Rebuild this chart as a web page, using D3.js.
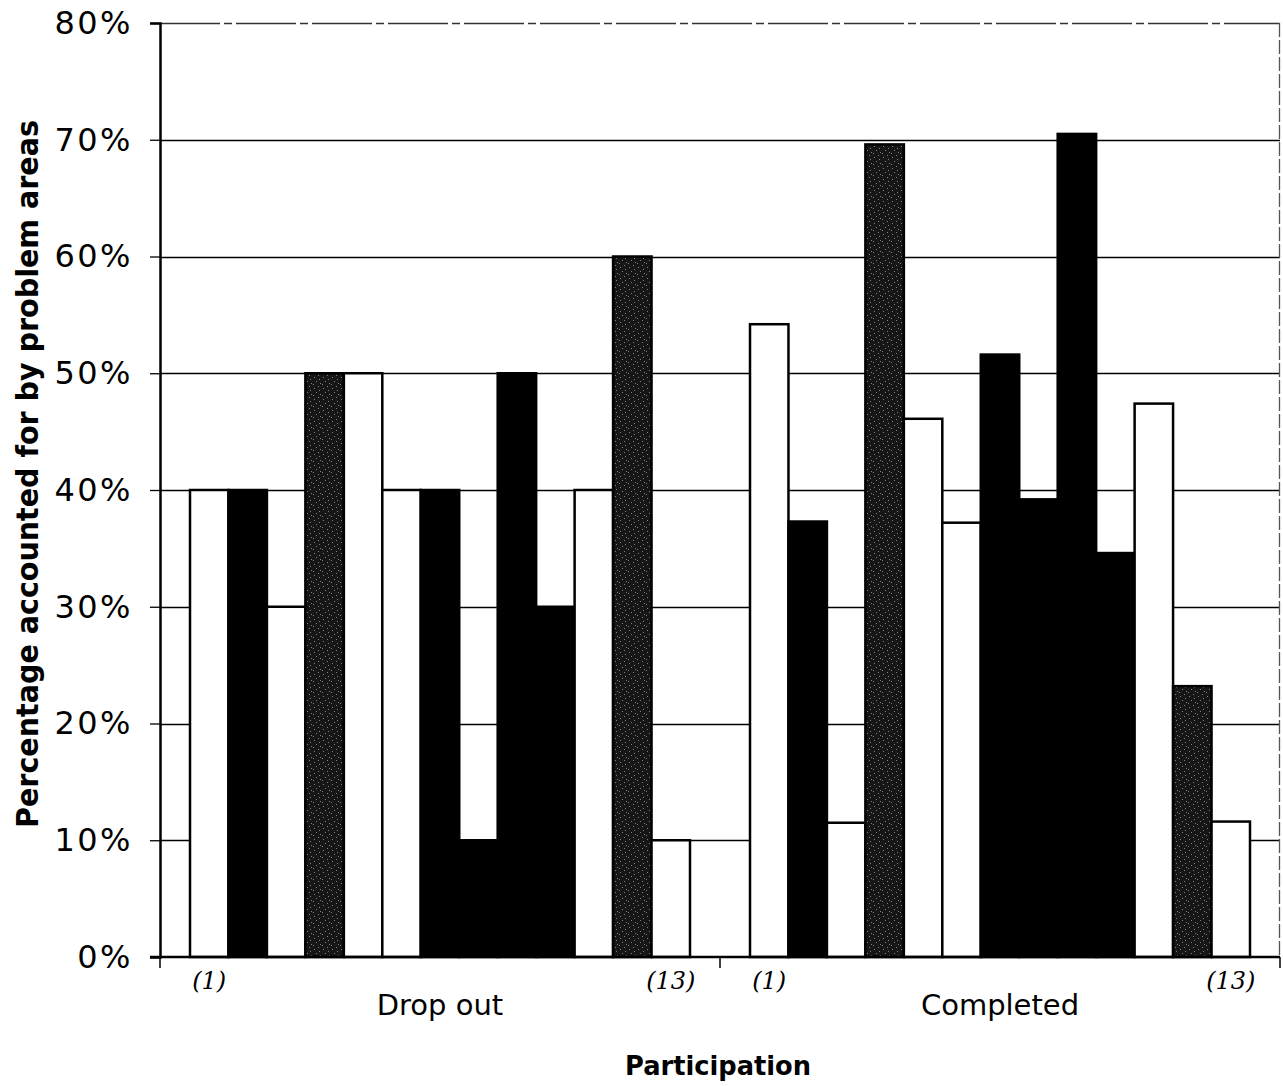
<!DOCTYPE html>
<html>
<head>
<meta charset="utf-8">
<script src="https://cdn.jsdelivr.net/npm/d3@7"></script>
<style>
  html, body { margin: 0; padding: 0; background: #fff; }
  svg { display: block; }
</style>
</head>
<body>
<div id="chart"></div>
<script>
// categories + series values
const groups = ['Drop out', 'Completed'];
const problemAreas = ['1', '2', '3', '4', '5', '6', '7', '8', '9', '10', '11', '12', '13'];
const dropOut = [0.40, 0.40, 0.30, 0.50, 0.50, 0.40, 0.40, 0.10, 0.50, 0.30, 0.40, 0.60, 0.10];
const completed = [0.542, 0.373, 0.115, 0.696, 0.461, 0.372, 0.516, 0.392, 0.705, 0.346, 0.474, 0.232, 0.116];
const yTicks = [0, 0.1, 0.2, 0.3, 0.4, 0.5, 0.6, 0.7, 0.8];
const endLabels = ['(1)', '(13)'];

// fill per series (print was black / white / speckled grey)
const seriesFill = ['white', 'black', 'white', 'grey', 'white', 'white', 'black', 'black', 'black', 'black', 'white', 'grey', 'white'];

const width = 1283,
      height = 1086,
      margin = {top: 23, right: 3, bottom: 129, left: 160},
      innerWidth = width - margin.left - margin.right,
      innerHeight = height - margin.top - margin.bottom;

const svg = d3.select('#chart').append('svg')
  .attr('width', width)
  .attr('height', height);

// speckled grey texture
const defs = svg.append('defs');
const pat = defs.append('pattern')
  .attr('id', 'speckle')
  .attr('patternUnits', 'userSpaceOnUse')
  .attr('width', 9).attr('height', 11);
pat.append('rect').attr('width', 9).attr('height', 11).attr('fill', '#161616');
[[1, 2], [5, 0], [3, 6], [7, 8], [0, 9], [6, 4]].forEach(p => {
  pat.append('rect').attr('x', p[0]).attr('y', p[1]).attr('width', 1).attr('height', 1).attr('fill', '#808080');
});

const fillFor = f => f === 'grey' ? 'url(#speckle)' : f;

const g = svg.append('g')
  .attr('transform', `translate(${margin.left},${margin.top})`);

const x0 = d3.scaleBand()
  .domain(groups)
  .range([0, innerWidth]);

const x1 = d3.scaleBand()
  .domain(problemAreas)
  .range([0, x0.bandwidth()])
  .paddingOuter(0.78);

const y = d3.scaleLinear()
  .domain([0, 0.8])
  .range([innerHeight, 0]);

// grid lines
g.append('g')
  .selectAll('line')
  .data(yTicks.filter(d => d > 0))
  .enter().append('line')
  .attr('x1', 0).attr('x2', innerWidth)
  .attr('y1', d => Math.round(y(d)) + 0.5)
  .attr('y2', d => Math.round(y(d)) + 0.5)
  .style('stroke', d => d === 0.8 ? '#333' : '#000')
  .style('stroke-width', 1.3)
  .style('stroke-dasharray', d => d === 0.8 ? '60 4 8 4' : null);

// right border of plot
g.append('line')
  .attr('x1', innerWidth - 0.5).attr('x2', innerWidth - 0.5)
  .attr('y1', 0).attr('y2', innerHeight)
  .style('stroke', '#555')
  .style('stroke-width', 1.3)
  .style('stroke-dasharray', '14 3');

// bars
const values = {'Drop out': dropOut, 'Completed': completed};

const groupG = g.selectAll('.grp')
  .data(groups)
  .enter().append('g')
  .attr('class', 'grp')
  .attr('transform', d => `translate(${x0(d)},0)`);

groupG.selectAll('rect')
  .data(grp => values[grp].map((v, i) => ({key: problemAreas[i], value: v, fill: seriesFill[i]})))
  .enter().append('rect')
  .attr('x', d => x1(d.key))
  .attr('y', d => y(d.value))
  .attr('width', x1.bandwidth())
  .attr('height', d => innerHeight - y(d.value))
  .style('fill', d => fillFor(d.fill))
  .style('stroke', '#000')
  .style('stroke-width', 2.5);

// y axis
const yAxis = d3.axisLeft(y)
  .tickValues(yTicks)
  .tickFormat(d3.format('.0%'))
  .tickSize(10)
  .tickPadding(17);

const yAxisG = g.append('g').call(yAxis);
yAxisG.select('.domain').style('stroke', '#000').style('stroke-width', 2.5);
yAxisG.selectAll('.tick line').style('stroke', '#000').style('stroke-width', 1.3);
yAxisG.selectAll('.tick text')
  .style('font-family', '"DejaVu Sans", sans-serif')
  .style('font-size', '32px')
  .style('letter-spacing', '2.5px')
  .style('fill', '#000');

// x axis baseline + group ticks
g.append('line')
  .attr('x1', -10).attr('x2', innerWidth)
  .attr('y1', innerHeight).attr('y2', innerHeight)
  .style('stroke', '#000').style('stroke-width', 2.5);

g.append('g')
  .selectAll('line')
  .data([0, x0.bandwidth(), innerWidth])
  .enter().append('line')
  .attr('x1', d => d).attr('x2', d => d)
  .attr('y1', innerHeight).attr('y2', innerHeight + 11)
  .style('stroke', '#000').style('stroke-width', 1.5);

// group labels
g.append('g')
  .selectAll('text')
  .data(groups)
  .enter().append('text')
  .attr('x', d => x0(d) + x0.bandwidth() / 2)
  .attr('y', innerHeight + 58)
  .attr('text-anchor', 'middle')
  .style('font-family', '"DejaVu Sans", sans-serif')
  .style('font-size', '29px')
  .text(d => d);

// hand-written end markers under first and last bar of each group
groups.forEach(grp => {
  [problemAreas[0], problemAreas[problemAreas.length - 1]].forEach((k, j) => {
    g.append('text')
      .attr('x', x0(grp) + x1(k) + x1.bandwidth() / 2)
      .attr('y', innerHeight + 32)
      .attr('text-anchor', 'middle')
      .style('font-family', '"DejaVu Serif", serif')
      .style('font-style', 'italic')
      .style('font-size', '24px')
      .text(endLabels[j]);
  });
});

// axis titles
svg.append('text')
  .attr('x', margin.left + innerWidth / 2 - 2)
  .attr('y', 1075)
  .attr('text-anchor', 'middle')
  .style('font-family', '"DejaVu Sans", sans-serif')
  .style('font-weight', 'bold')
  .style('font-size', '26px')
  .attr('textLength', 186)
  .attr('lengthAdjust', 'spacingAndGlyphs')
  .text('Participation');

svg.append('text')
  .attr('transform', `translate(38,${474}) rotate(-90)`)
  .attr('text-anchor', 'middle')
  .style('font-family', '"Liberation Sans Narrow", "DejaVu Sans Condensed", sans-serif')
  .style('font-weight', 'bold')
  .style('font-size', '31px')
  .attr('textLength', 708)
  .attr('lengthAdjust', 'spacingAndGlyphs')
  .text('Percentage accounted for by problem areas');
</script>
</body>
</html>
